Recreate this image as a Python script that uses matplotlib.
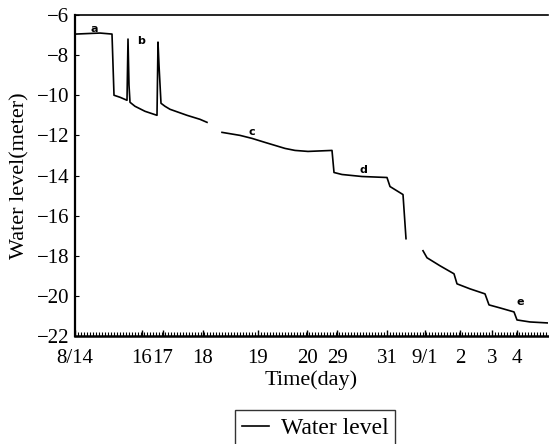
import numpy as np
import matplotlib
matplotlib.use("Agg")
import matplotlib.pyplot as plt
from matplotlib.ticker import MultipleLocator

plt.rcParams['font.family'] = ['Liberation Serif', 'DejaVu Serif']

# Время в условных единицах шкалы (ось разрывная, дни неравномерны)
tick_pos = [0, 67, 88, 128, 183, 232, 262, 312, 350, 385, 417, 442]
tick_labels = ['8/14', '16', '17', '18', '19', '20', '29', '31', '9/1', '2', '3', '4']

# Уровень воды (nan = разрыв линии)
t = [1, 15, 25, 37, 39, 45, 52, 53, 54, 55, 60, 70, 82, 83, 84, 86, 90, 95,
     112, 125, 132, np.nan,
     147, 165, 177, 190, 200, 210, 220, 233, 257, 259, 267, 287, 312, 315,
     328, 331, np.nan,
     348, 352, 365, 379, 382, 395, 410, 414, 425, 439, 442, 455, 473]
level = [-6.95, -6.92, -6.9, -6.95, -10.0, -10.1, -10.25, -7.2, -9.5, -10.35,
         -10.55, -10.8, -11.0, -7.35, -8.5, -10.4, -10.55, -10.7,
         -11.0, -11.2, -11.35, np.nan,
         -11.85, -12.0, -12.15, -12.35, -12.5, -12.65, -12.75, -12.8, -12.75,
         -13.85, -13.95, -14.05, -14.1, -14.55, -14.95, -17.15, np.nan,
         -17.75, -18.1, -18.5, -18.9, -19.4, -19.65, -19.9, -20.45, -20.6,
         -20.8, -21.2, -21.3, -21.35]

marks = ['a', 'b', 'c', 'd', 'e']
mark_t = [19, 66, 177, 288, 445]
mark_y = [-6.7, -7.3, -11.83, -13.73, -20.3]

fig = plt.figure(figsize=(5.49, 4.44), dpi=100)
ax = fig.add_axes([75 / 549, 1 - 336 / 444, 473 / 549, 321 / 444])

ax.plot(t, level, color='black', lw=1.2, label='Water level')

for m, xm, ym in zip(marks, mark_t, mark_y):
    ax.text(xm, ym, m, fontsize=8, fontweight='bold', family='DejaVu Sans',
            ha='center', va='center')

ax.set_yticks(np.arange(-22, -5, 2))
ax.set_xticks(tick_pos)
ax.set_xticklabels(tick_labels)
ax.xaxis.set_minor_locator(MultipleLocator(3))
ax.set_xlim(0, 473)
ax.set_ylim(-22, -6)

ax.tick_params(axis='x', which='major', direction='in', length=4, width=1,
               labelsize=15, pad=9)
ax.tick_params(axis='x', which='minor', direction='in', length=3, width=0.8)
ax.tick_params(axis='y', direction='in', length=3, labelsize=15, pad=4)

ax.spines['right'].set_visible(False)
ax.spines['left'].set_linewidth(1.6)
ax.spines['bottom'].set_linewidth(1.8)
ax.spines['top'].set_linewidth(1.2)

ax.set_xlabel('Time(day)', fontsize=16, labelpad=2)
ax.set_ylabel('Water level(meter)', fontsize=16, labelpad=5)

leg = fig.legend(loc='center', bbox_to_anchor=(315 / 549, 1 - 428 / 444),
                 fontsize=17, frameon=True, fancybox=False, edgecolor='black',
                 handlelength=1.15, handletextpad=0.5, borderpad=0.3,
                 borderaxespad=0)
leg.get_frame().set_linewidth(1.0)

fig.savefig('out.png', dpi=100)
